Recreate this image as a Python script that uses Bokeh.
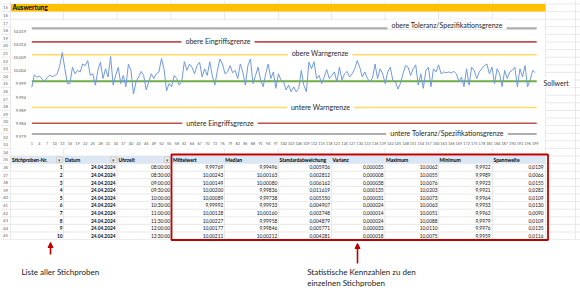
from bokeh.plotting import figure
from bokeh.models import Range1d, Arrow, NormalHead
from bokeh.embed import file_html
from bokeh.resources import INLINE
from bokeh.core.properties import value

# ---------------- data ----------------
samples = list(range(1, 200))
means = [
    9.99769, 10.00243, 10.00149, 10.00200, 10.00089, 9.99992, 10.00128, 10.00227, 10.00177, 10.00211,
    10.0028, 10.0059, 10.0109, 10.0047, 9.9991, 9.9991, 10.0053, 10.0028, 10.0041, 10.0035,
    10.0065, 10.0059, 10.0078, 10.0022, 10.0028, 9.9985, 10.0041, 10.0072, 10.0010, 10.0047,
    10.0016, 10.0094, 9.9985, 10.0022, 10.0053, 9.9991, 10.0022, 9.9979, 10.0065, 10.0041,
    9.9951, 9.9998, 10.0016, 10.0037, 10.0022, 9.9967, 9.9998, 10.0028, 10.0010, 10.0028,
    10.0035, 10.0086, 10.0047, 9.9963, 9.9991, 9.9979, 10.0022, 10.0010, 9.9985, 10.0000,
    10.0074, 10.0041, 10.0065, 10.0053, 10.0028, 10.0059, 10.0072, 10.0016, 10.0047, 10.0022,
    10.0074, 10.0020, 9.9985, 10.0041, 10.0084, 10.0065, 10.0028, 10.0035, 10.0059, 10.0032,
    10.0041, 10.0010, 10.0065, 10.0035, 9.9985, 10.0059, 10.0084, 9.9991, 10.0022, 10.0053,
    10.0004, 9.9979, 10.0028, 10.0065, 10.0010, 10.0035, 9.9973, 10.0028, 10.0004, 9.9998,
    9.9967, 9.9985, 9.9960, 9.9979, 9.9960, 9.9973, 10.0041, 9.9985, 9.9960, 10.0072,
    10.0047, 10.0074, 10.0010, 10.0022, 9.9991, 10.0016, 10.0044, 10.0010, 10.0022, 10.0035,
    9.9998, 10.0053, 10.0004, 10.0028, 10.0037, 10.0016, 10.0028, 10.0047, 10.0078, 10.0053,
    10.0016, 10.0035, 10.0010, 9.9998, 10.0012, 10.0065, 10.0010, 10.0047, 10.0028, 9.9991,
    10.0035, 10.0053, 10.0004, 9.9998, 9.9970, 9.9991, 10.0028, 10.0059, 10.0053, 10.0022,
    10.0047, 10.0062, 9.9985, 10.0028, 9.9973, 10.0041, 10.0053, 9.9979, 10.0047, 10.0035,
    10.0062, 10.0028, 10.0035, 10.0032, 10.0035, 10.0032, 10.0037, 10.0028, 9.9998, 10.0016,
    9.9979, 10.0047, 9.9985, 10.0053, 10.0041, 10.0010, 10.0035, 10.0047, 10.0059, 10.0065,
    10.0028, 10.0053, 9.9991, 10.0047, 10.0028, 9.9979, 10.0041, 10.0010, 10.0035, 10.0041,
    10.0053, 9.9979, 10.0047, 10.0016, 10.0059, 9.9979, 10.0004, 10.0041, 10.0032,
]

limit_labels = ["obere Toleranz/Spezifikationsgrenze", "obere Eingriffsgrenze", "obere Warngrenze",
                "Sollwert", "untere Warngrenze", "untere Eingriffsgrenze",
                "untere Toleranz/Spezifikationsgrenze"]
limit_values = [10.020, 10.0149, 10.010, 10.000, 9.990, 9.9841, 9.980]

y_ticks = [10.019, 10.014, 10.009, 10.004, 9.999, 9.994, 9.989, 9.984, 9.979]
y_tick_labels = ["10,019", "10,014", "10,009", "10,004", "9,999", "9,994", "9,989", "9,984", "9,979"]
x_ticks = samples[::3]
x_tick_labels = [str(s) for s in x_ticks]

sheet_title = "Auswertung"
row_numbers = list(range(15, 46))

table_headers = ["Stichproben-Nr.", "Datum", "Uhrzeit", "Mittelwert", "Median",
                 "Standardabweichung", "Varianz", "Maximum", "Minimum", "Spannweite"]
tab_nr = ["1", "2", "3", "4", "5", "6", "7", "8", "9", "10"]
tab_datum = ["24.04.2024"] * 10
tab_zeit = ["08:00:00", "08:30:00", "09:00:00", "09:30:00", "10:00:00",
            "10:30:00", "11:00:00", "11:30:00", "12:00:00", "12:30:00"]
tab_mittel = ["9,99769", "10,00243", "10,00149", "10,00200", "10,00089",
              "9,99992", "10,00128", "10,00227", "10,00177", "10,00211"]
tab_median = ["9,99496", "10,00163", "10,00080", "9,99836", "9,99738",
              "9,99933", "10,00160", "9,99958", "9,99846", "10,00212"]
tab_std = ["0,005936", "0,002812", "0,006162", "0,011619", "0,005550",
           "0,004907", "0,003748", "0,004879", "0,005771", "0,004281"]
tab_var = ["0,000035", "0,000008", "0,000038", "0,000135", "0,000031",
           "0,000024", "0,000014", "0,000024", "0,000033", "0,000018"]
tab_max = ["10,0062", "10,0055", "10,0076", "10,0203", "10,0073",
           "10,0063", "10,0051", "10,0088", "10,0110", "10,0075"]
tab_min = ["9,9922", "9,9989", "9,9923", "9,9921", "9,9964",
           "9,9933", "9,9962", "9,9979", "9,9976", "9,9959"]
tab_span = ["0,0139", "0,0066", "0,0155", "0,0282", "0,0109",
            "0,0130", "0,0090", "0,0109", "0,0135", "0,0116"]
table_columns = [tab_nr, tab_datum, tab_zeit, tab_mittel, tab_median,
                 tab_std, tab_var, tab_max, tab_min, tab_span]

note_left = "Liste aller Stichproben"
note_right = ["Statistische Kennzahlen zu den", "einzelnen Stichproben"]

# ---------------- layout / style ----------------
W, H = 580, 297
FONT = value("Lato")
P_FIRST, P_LAST = 31.3, 534.7      # pixel x of first / last sample
Y_REF_PX, Y_PX_PER_UNIT = 80.7, 2640.0   # pixel y of value 10.000, px per unit

def row_y(r):
    return 7.3 + (r - 15) * 7.6

p = figure(width=W, height=H, x_range=Range1d(0, W), y_range=Range1d(H, 0),
           x_axis_location=None, y_axis_location=None, toolbar_location=None,
           output_backend="svg", min_border=0)
p.outline_line_color = None
p.grid.visible = False
p.background_fill_color = "white"
p.border_fill_color = "white"

k = (P_LAST - P_FIRST) / (samples[-1] - samples[0])
cx0 = samples[0] - P_FIRST / k
p.extra_x_ranges = {"cx": Range1d(cx0, cx0 + W / k)}
p.extra_y_ranges = {"cy": Range1d(10.0 - (H - Y_REF_PX) / Y_PX_PER_UNIT,
                                  10.0 + Y_REF_PX / Y_PX_PER_UNIT)}

# Excel grid
GRID = "#E3E3E3"
col_edges = [10, 63, 116.5, 170.5, 224, 278, 331, 384.5, 438, 492, 545]
hy = [row_y(r) + 3.8 for r in range(14, 46)]
p.segment(x0=[0] * len(hy), x1=[W] * len(hy), y0=hy, y1=hy, line_color=GRID, line_width=0.8)
p.segment(x0=col_edges + [575], x1=col_edges + [575], y0=[0] * 12, y1=[row_y(45) + 3.8] * 12,
          line_color=GRID, line_width=0.8)
# white area below the table
p.quad(left=[0], right=[W], top=[row_y(45) + 4.2], bottom=[H], fill_color="white", line_color=None)

# sheet title bar
p.quad(left=[10.5], right=[545], top=[row_y(15) - 3.8], bottom=[row_y(15) + 3.8],
       fill_color="#FFC000", line_color=None)
p.text(x=[12], y=[row_y(15)], text=[sheet_title], text_font=FONT, text_font_size="6.5px",
       text_font_style="bold", text_baseline="middle", text_color="black")

# row numbers
p.text(x=[5] * len(row_numbers), y=[row_y(r) for r in row_numbers], text=[str(r) for r in row_numbers],
       text_font=FONT, text_font_size="4.5px", text_align="center", text_baseline="middle",
       text_color="#6b6b6b")

# chart area
p.quad(left=[10.6], right=[544.6], top=[19.4], bottom=[148.2], fill_color="white", line_color=None)

line_styles = [("#AEAEAE", 2.2), ("#C0504D", 1.6), ("#FFD966", 1.5), ("#70AD47", 2.0),
               ("#FFD966", 1.5), ("#C0504D", 1.6), ("#AEAEAE", 2.2)]
for v, (c, w) in zip(limit_values, line_styles):
    p.line(x=[samples[0], samples[-1] + 0.6], y=[v, v], x_range_name="cx", y_range_name="cy",
           line_color=c, line_width=w)

p.line(x=samples, y=means, x_range_name="cx", y_range_name="cy", line_color="#6F9AE0", line_width=1.0)

# limit labels (white box interrupts the line)
lab_x = [446.5, 217.5, 319.5, 539, 320, 219.5, 446.5]
lab_y = [24, 40.5, 52.5, 82, 106.7, 122.7, 132.7]
lab_align = ["center", "center", "center", "left", "center", "center", "center"]
p.text(x=lab_x, y=lab_y, text=limit_labels, text_align=lab_align, text_baseline="middle",
       text_font=FONT, text_font_size="7px", text_color="#262626",
       background_fill_color="white", padding=dict(left=4, right=4, top=1, bottom=1))

# y tick labels
p.text(x=[25.5] * len(y_ticks), y=y_ticks, text=y_tick_labels, y_range_name="cy",
       text_align="right", text_baseline="middle", text_font=FONT, text_font_size="4px",
       text_color="#595959")
# x tick labels
p.text(x=x_ticks, y=[143] * len(x_ticks), text=x_tick_labels, x_range_name="cx",
       text_align="center", text_baseline="middle", text_font=FONT, text_font_size="3.8px",
       text_color="#595959")

# table
hdr_y = row_y(35)
p.quad(left=[10.6], right=[544.6], top=[hdr_y - 3.7], bottom=[hdr_y + 3.7],
       fill_color="#DDE6F3", line_color=None)
hdr_x = [11.5, 64.5, 118, 172.5, 224.8, 279, 332, 385.5, 439, 493]
p.text(x=hdr_x, y=[hdr_y] * 10, text=table_headers, text_font=FONT, text_font_size="5px",
       text_font_style="bold", text_baseline="middle", text_color="black")
btn_x = [59, 113, 166.8]
p.rect(x=btn_x, y=[hdr_y] * 3, width=5.5, height=5.5, fill_color="#F4F4F4", line_color="#B5B5B5",
       line_width=0.6)
p.text(x=btn_x, y=[hdr_y + 0.3] * 3, text=["▾"] * 3, text_font=FONT, text_font_size="5px",
       text_align="center", text_baseline="middle", text_color="#555555")

val_right = [62, 115, 169.5, 222.7, 276.7, 329.5, 383, 437, 490, 543]
row_ys = [row_y(r) for r in range(36, 46)]
for j, col in enumerate(table_columns):
    p.text(x=[val_right[j]] * len(col), y=row_ys, text=col, text_font=FONT, text_font_size="4.8px",
           text_font_style="bold" if j < 2 else "normal",
           text_align="right", text_baseline="middle", text_color="#111111")

# red highlight box
p.quad(left=[171], right=[547.5], top=[154], bottom=[239.5], fill_color=None,
       line_color="#C00000", line_width=1.8)

# annotations
for ax, y0, y1 in [(50, 254, 242), (357, 263, 243)]:
    p.add_layout(Arrow(x_start=ax, y_start=y0, x_end=ax, y_end=y1, line_color="#C00000",
                       line_width=1.6,
                       end=NormalHead(size=5, fill_color="#C00000", line_color="#C00000")))
p.text(x=[21], y=[271.7], text=[note_left], text_font=FONT, text_font_size="8px",
       text_baseline="middle", text_color="#1a1a1a")
p.text(x=[306.7, 306.7], y=[271.7, 282.3], text=note_right, text_font=FONT, text_font_size="8px",
       text_baseline="middle", text_color="#1a1a1a")

open("out.html", "w").write(file_html(p, INLINE))
